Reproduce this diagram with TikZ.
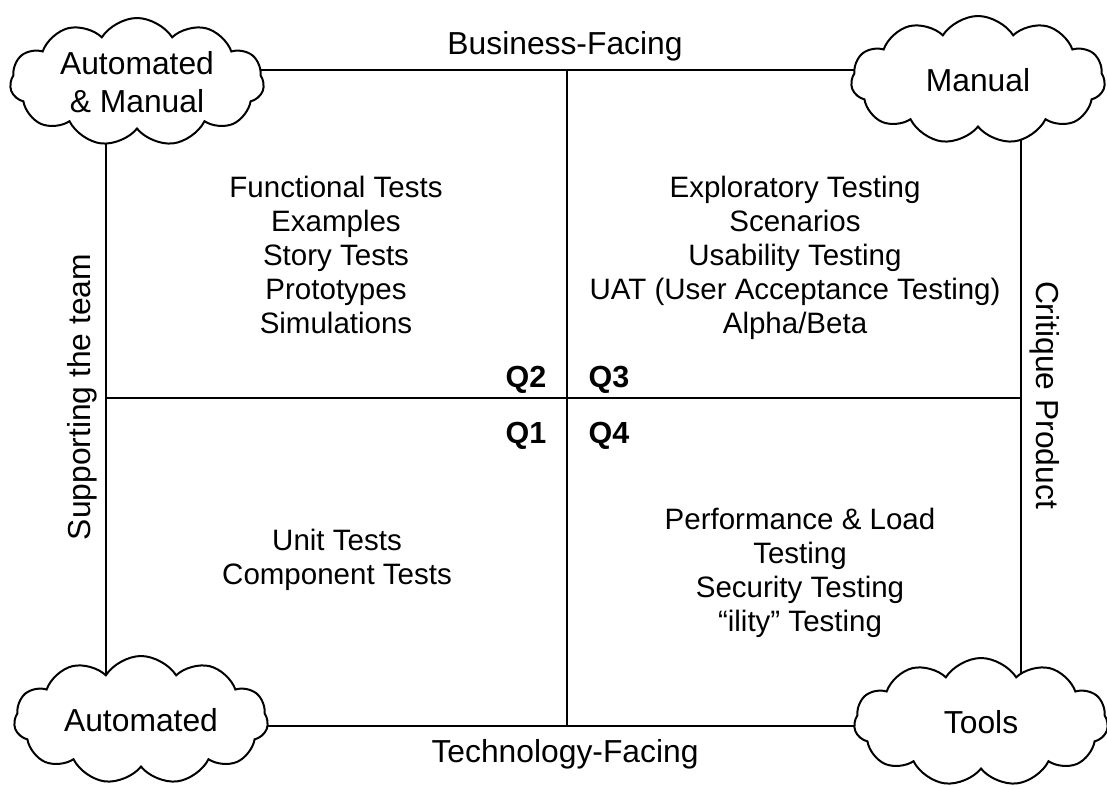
\documentclass[tikz,border=0pt]{standalone}
\usepackage{fontspec}
\setmainfont{Liberation Sans}
\usetikzlibrary{shapes.symbols}
\begin{document}
\begin{tikzpicture}[x=1pt,y=-1pt,
  cloudbox/.style={cloud, cloud puffs=11, cloud puff arc=115, cloud ignores aspect, draw=black, line width=2pt, fill=white,
    minimum width=254pt, minimum height=128pt, inner sep=0pt, align=center,
    font=\fontsize{31.8}{38}\selectfont},
  body/.style={align=center, font=\fontsize{29.5}{34}\selectfont, inner sep=0pt},
  edge/.style={align=center, font=\fontsize{31.8}{38}\selectfont, inner sep=0pt},
  qlabel/.style={font=\bfseries\fontsize{30.5}{34}\selectfont, inner sep=0pt},
  border/.style={line width=2pt},
  divider/.style={line width=1.2pt}]
\useasboundingbox (0,0) rectangle (1107,785);
\coordinate (tl) at (106,70);
\coordinate (tr) at (1021,70);
\coordinate (bl) at (106,726);
\coordinate (br) at (1021,726);
\coordinate (tm) at (567,70);
\coordinate (bm) at (567,726);
\coordinate (lm) at (106,398);
\coordinate (rm) at (1021,398);
\draw[border] (tl) -- (tr) -- (br) -- (bl) -- cycle;
\draw[divider] (tm) -- (bm);
\draw[divider] (lm) -- (rm);
\node[cloudbox] (c1) at (137,82) {Automated\\\& Manual};
\node[cloudbox] (c2) at (978,80) {Manual};
\node[cloudbox] (c3) at (141,720) {Automated};
\node[cloudbox] (c4) at (981,722) {Tools};
\node[edge] (bf) at (565,46) {Business-Facing};
\node[edge] (tf) at (565,754) {Technology-Facing};
\node[edge, rotate=90] (st) at (82,397) {Supporting the team};
\node[edge, rotate=-90] (cp) at (1045,395) {Critique Product};
\node[body] (q2t) at (336,255) {Functional Tests\\Examples\\Story Tests\\Prototypes\\Simulations};
\node[body] (q3t) at (795,258) {Exploratory Testing\\Scenarios\\Usability Testing\\UAT (User Acceptance Testing)\\Alpha/Beta};
\node[body] (q1t) at (337,560) {Unit Tests\\Component Tests};
\node[body] (q4t) at (800,573) {Performance \& Load\\Testing\\Security Testing\\“ility” Testing};
\node[qlabel] (q2) at (526,380) {Q2};
\node[qlabel] (q3) at (609,380) {Q3};
\node[qlabel] (q1) at (526,436) {Q1};
\node[qlabel] (q4) at (609,436) {Q4};
\end{tikzpicture}
\end{document}
